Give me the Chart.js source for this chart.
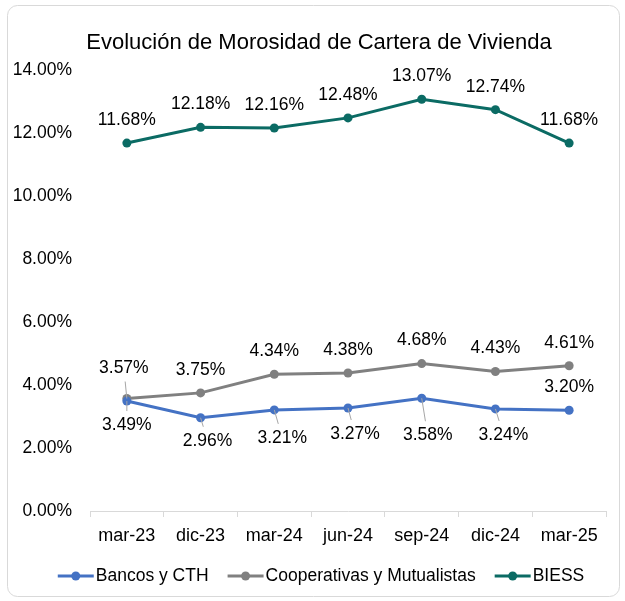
<!DOCTYPE html>
<html><head><meta charset="utf-8">
<script src="https://cdn.jsdelivr.net/npm/chart.js@4/dist/chart.umd.min.js"></script>
<style>html,body{margin:0;padding:0;background:#fff}#wrap{width:625px;height:601px;position:relative}</style>
</head><body><div id="wrap"><canvas id="c" width="625" height="601"></canvas></div>
<script>
const categories = ['mar-23','dic-23','mar-24','jun-24','sep-24','dic-24','mar-25'];
const bancos = [3.49, 2.96, 3.21, 3.27, 3.58, 3.24, 3.20];
const cooperativas = [3.57, 3.75, 4.34, 4.38, 4.68, 4.43, 4.61];
const biess = [11.68, 12.18, 12.16, 12.48, 13.07, 12.74, 11.68];
const yTicks = [0, 2, 4, 6, 8, 10, 12, 14];
const seriesNames = ['Bancos y CTH', 'Cooperativas y Mutualistas', 'BIESS'];
const titleText = 'Evolución de Morosidad de Cartera de Vivienda';

const FONT = "'Liberation Sans', Arial, sans-serif";
const colors = ['#4472C4', '#808080', '#0B6B64'];

// label placement (dx, dy from point, leader line flag) per series
const labelPlacement = [
  [[0,24,1],[7,23,1],[8,28,1],[7,26,1],[6,37,1],[8,26,1],[0,-23,0]],
  [[-3,-30,1],[0,-23,0],[0,-23,0],[0,-23,0],[0,-23,0],[0,-23,0],[0,-23,0]],
  [[0,-23,0],[0,-23,0],[0,-23,0],[0,-23,0],[0,-23,0],[0,-23,0],[0,-23,0]]
];

const framePlugin = {
  id: 'frame',
  beforeDraw(chart) {
    const ctx = chart.ctx;
    ctx.save();
    ctx.fillStyle = '#fff';
    ctx.fillRect(0, 0, chart.width, chart.height);
    ctx.strokeStyle = '#d9d9d9';
    ctx.lineWidth = 1;
    ctx.beginPath();
    ctx.roundRect(7.5, 5.5, 612, 591, 10);
    ctx.stroke();
    ctx.fillStyle = '#000';
    ctx.font = '22px ' + FONT;
    ctx.textAlign = 'center';
    ctx.textBaseline = 'alphabetic';
    ctx.fillText(titleText, 319, 49);
    ctx.restore();
  }
};

const labelPlugin = {
  id: 'labels',
  afterDatasetsDraw(chart) {
    const ctx = chart.ctx;
    ctx.save();
    ctx.font = '17.5px ' + FONT;
    ctx.textAlign = 'center';
    ctx.textBaseline = 'middle';
    chart.data.datasets.forEach((ds, di) => {
      const meta = chart.getDatasetMeta(di);
      meta.data.forEach((pt, i) => {
        const [dx, dy, leader] = labelPlacement[di][i];
        const lx = pt.x + dx, ly = pt.y + dy;
        if (leader) {
          ctx.strokeStyle = '#a6a6a6';
          ctx.lineWidth = 1;
          ctx.beginPath();
          ctx.moveTo(pt.x, pt.y);
          const ey = dy > 0 ? ly - 14 : ly + 13;
          const ex = pt.x + (lx - pt.x) * ((ey - pt.y) / (ly - pt.y));
          ctx.lineTo(ex, ey);
          ctx.stroke();
        }
        ctx.fillStyle = '#000';
        ctx.fillText(ds.data[i].toFixed(2) + '%', lx, ly);
      });
    });
    ctx.restore();
  }
};

const legendPlugin = {
  id: 'customLegend',
  afterDraw(chart) {
    const ctx = chart.ctx;
    ctx.save();
    ctx.font = '17.5px ' + FONT;
    ctx.textBaseline = 'middle';
    ctx.textAlign = 'left';
    const sym = 36, gapT = 2, gapI = 19;
    const widths = seriesNames.map(n => sym + gapT + ctx.measureText(n).width);
    const total = widths.reduce((a, b) => a + b, 0) + gapI * (seriesNames.length - 1);
    let x = 321 - total / 2;
    const y = 576;
    seriesNames.forEach((n, i) => {
      ctx.strokeStyle = colors[i];
      ctx.lineWidth = 3;
      ctx.beginPath();
      ctx.moveTo(x, y);
      ctx.lineTo(x + sym, y);
      ctx.stroke();
      ctx.fillStyle = colors[i];
      ctx.beginPath();
      ctx.arc(x + sym / 2, y, 4.5, 0, Math.PI * 2);
      ctx.fill();
      ctx.fillStyle = '#000';
      ctx.fillText(n, x + sym + gapT, y);
      x += widths[i] + gapI;
    });
    ctx.restore();
  }
};

const mk = (label, data, color) => ({
  label, data,
  borderColor: color, backgroundColor: color,
  borderWidth: 3, pointRadius: 4.5, pointBorderWidth: 0,
  pointBackgroundColor: color, tension: 0
});

new Chart(document.getElementById('c'), {
  type: 'line',
  data: {
    labels: categories,
    datasets: [
      mk(seriesNames[0], bancos, colors[0]),
      mk(seriesNames[1], cooperativas, colors[1]),
      mk(seriesNames[2], biess, colors[2])
    ]
  },
  options: {
    responsive: false,
    animation: false,
    devicePixelRatio: 1,
    layout: { padding: { left: 10, right: 19, top: 70, bottom: 50 } },
    plugins: { legend: { display: false }, title: { display: false }, tooltip: { enabled: false } },
    scales: {
      x: {
        offset: true,
        grid: { display: true, drawOnChartArea: false, drawTicks: true, tickLength: 6, offset: true, color: '#d9d9d9' },
        border: { display: true, color: '#d9d9d9', width: 1 },
        ticks: { color: '#000', font: { family: FONT, size: 18 }, padding: 8, maxRotation: 0 },
        afterFit(s) { s.height = 40; }
      },
      y: {
        min: 0, max: 14,
        grid: { display: false, drawTicks: false },
        border: { display: false },
        afterBuildTicks(s) { s.ticks = yTicks.map(v => ({ value: v })); },
        ticks: { color: '#000', font: { family: FONT, size: 17.5 }, padding: 18,
          callback: v => Number(v).toFixed(2) + '%' },
        afterFit(s) { s.width = 80; }
      }
    }
  },
  plugins: [framePlugin, labelPlugin, legendPlugin]
});
</script>
</body></html>
